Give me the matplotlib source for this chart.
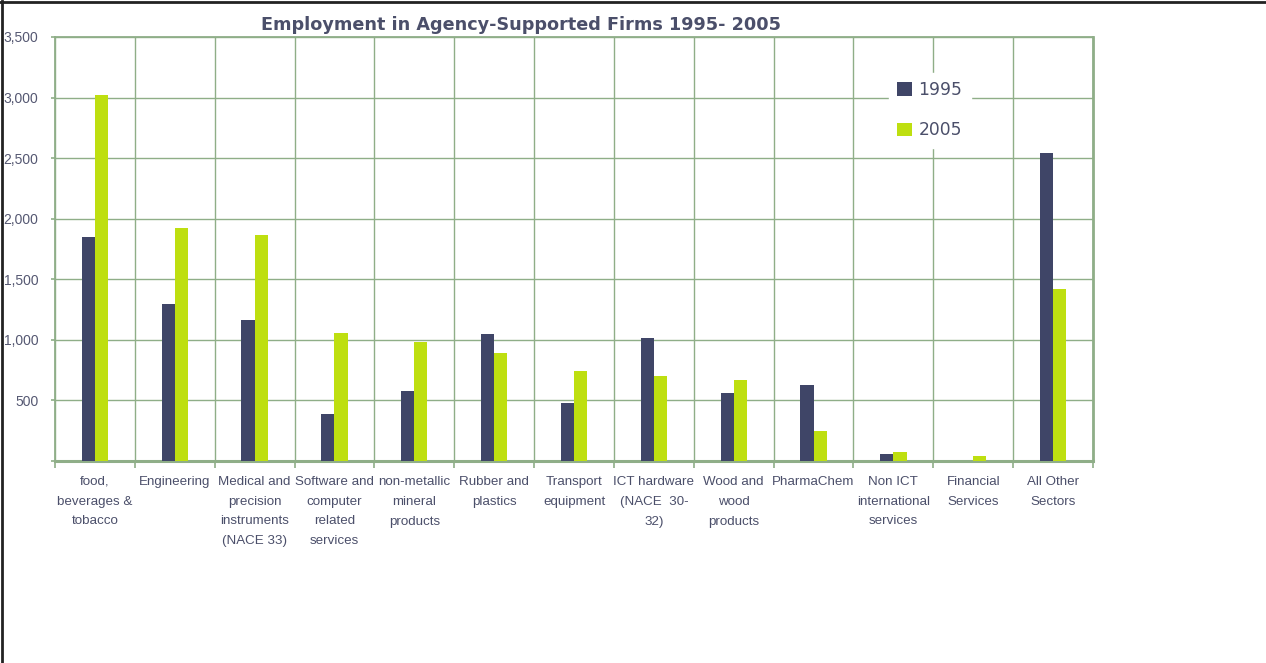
import matplotlib.pyplot as plt
from matplotlib.lines import Line2D
import matplotlib.transforms as mtransforms
import numpy as np

# Datos
sectores = ["food,\nbeverages &\ntobacco", "Engineering",
            "Medical and\nprecision\ninstruments\n(NACE 33)",
            "Software and\ncomputer\nrelated\nservices",
            "non-metallic\nmineral\nproducts", "Rubber and\nplastics",
            "Transport\nequipment", "ICT hardware\n(NACE  30-\n32)",
            "Wood and\nwood\nproducts", "PharmaChem",
            "Non ICT\ninternational\nservices", "Financial\nServices",
            "All Other\nSectors"]
empleo_1995 = [1850, 1296, 1164, 388, 578, 1049, 479, 1016, 561, 628, 58, 0, 2543]
empleo_2005 = [3022, 1924, 1866, 1057, 983, 892, 743, 702, 669, 248, 74, 41, 1420]
yticks = [0, 500, 1000, 1500, 2000, 2500, 3000, 3500]
ylabels = ["", "500", "1,000", "1,500", "2,000", "2,500", "3,000", "3,500"]

c1995 = "#3F4567"
c2005 = "#BEDF10"
verde = "#8FAE88"
texto = "#4B4F6A"

fig = plt.figure(figsize=(12.66, 6.63), dpi=100)
ax = fig.add_axes([55/1266, 1 - 461/663, (1093-55)/1266, (461-37)/663])

x = np.arange(len(sectores))
w = 0.165
ax.bar(x - w/2, empleo_1995, w, color=c1995, label="1995", zorder=3)
ax.bar(x + w/2, empleo_2005, w, color=c2005, label="2005", zorder=3)

ax.set_xlim(-0.5, len(sectores) - 0.5)
ax.set_ylim(0, 3500)
ax.set_yticks(yticks)
ax.set_yticklabels(ylabels, fontfamily="Liberation Sans", fontsize=10, color="#555872")
ax.set_xticks([])
ax.set_xticks(np.arange(-0.5, len(sectores)), minor=True)
ax.tick_params(axis="x", which="minor", length=5, color=verde, width=1.2)
ax.tick_params(axis="y", length=3, color=verde, width=1.2, pad=9)

# etiquetas del eje x con interlineado más amplio
trans = mtransforms.blended_transform_factory(ax.transData, ax.transAxes)
for xi, nombre in zip(x, sectores):
    ax.text(xi, -0.035, nombre, transform=trans, ha="center", va="top",
            fontfamily="Liberation Sans", fontsize=9.6, color=texto,
            linespacing=1.87, multialignment="center")

ax.grid(axis="y", color=verde, linewidth=1, zorder=0)
ax.grid(axis="x", which="minor", color=verde, linewidth=1, zorder=0)
for s in ax.spines.values():
    s.set_color(verde)
    s.set_linewidth(1.3)
ax.spines["bottom"].set_linewidth(2.2)
ax.spines["right"].set_linewidth(2)

leg = ax.legend(loc="upper left", bbox_to_anchor=(880/1266, 1 - 64/663),
                bbox_transform=fig.transFigure, frameon=True, framealpha=1,
                edgecolor="white", fancybox=False, handlelength=0.85,
                handleheight=0.85, handletextpad=0.4, labelspacing=1.3,
                borderpad=0.5, prop={"family": "DejaVu Sans", "size": 12.3})
for t in leg.get_texts():
    t.set_color(texto)
leg.set_zorder(5)

fig.text(521/1266, 1 - 25/663, "Employment in Agency-Supported Firms 1995- 2005",
         ha="center", va="center", fontsize=12.7, fontweight="bold",
         fontfamily="DejaVu Sans", color=texto)

# marco del lienzo (izquierda y arriba)
fig.add_artist(Line2D([2/1266, 2/1266], [0, 1 - 1/663], color="#222222",
                      linewidth=2, transform=fig.transFigure))
fig.add_artist(Line2D([0, 1], [1 - 1.5/663, 1 - 1.5/663], color="#222222",
                      linewidth=2, transform=fig.transFigure))

fig.savefig("out.png", dpi=100)
